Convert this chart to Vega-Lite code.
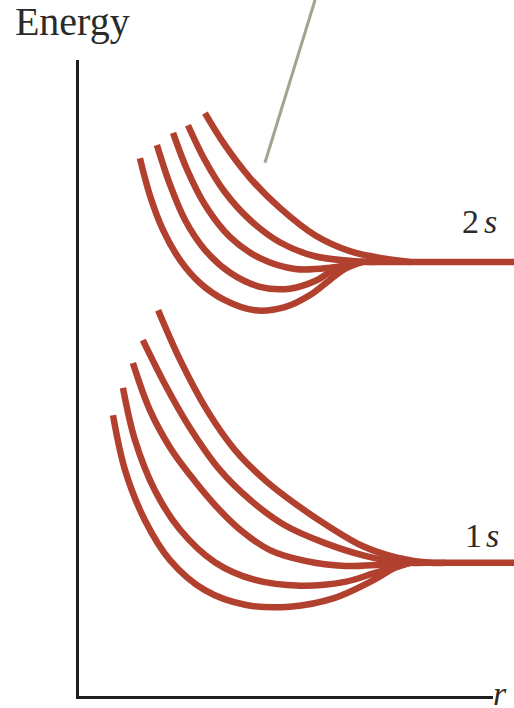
{
  "$schema": "https://vega.github.io/schema/vega-lite/v6.json",
  "width": 414,
  "height": 636,
  "autosize": "none",
  "padding": {"left": 77, "top": 61, "right": 23, "bottom": 11},
  "background": "white",
  "config": {"view": {"stroke": null}, "font": "Liberation Serif"},
  "datasets": {
    "curves": [
      {"g": "2s-a", "r": 1.52, "E": 8.47}, {"g": "2s-a", "r": 1.76, "E": 7.89}, {"g": "2s-a", "r": 2.08, "E": 7.34},
      {"g": "2s-a", "r": 2.49, "E": 6.87}, {"g": "2s-a", "r": 2.97, "E": 6.51}, {"g": "2s-a", "r": 3.57, "E": 6.24},
      {"g": "2s-a", "r": 4.30, "E": 6.08}, {"g": "2s-a", "r": 5.02, "E": 6.13}, {"g": "2s-a", "r": 5.63, "E": 6.32},
      {"g": "2s-a", "r": 6.11, "E": 6.56}, {"g": "2s-a", "r": 6.47, "E": 6.73}, {"g": "2s-a", "r": 6.88, "E": 6.84},

      {"g": "2s-b", "r": 1.93, "E": 8.68}, {"g": "2s-b", "r": 2.25, "E": 8.05}, {"g": "2s-b", "r": 2.61, "E": 7.50},
      {"g": "2s-b", "r": 3.09, "E": 7.03}, {"g": "2s-b", "r": 3.70, "E": 6.67}, {"g": "2s-b", "r": 4.42, "E": 6.45},
      {"g": "2s-b", "r": 5.14, "E": 6.42}, {"g": "2s-b", "r": 5.75, "E": 6.54}, {"g": "2s-b", "r": 6.30, "E": 6.75},
      {"g": "2s-b", "r": 6.88, "E": 6.84},

      {"g": "2s-c", "r": 2.32, "E": 8.87}, {"g": "2s-c", "r": 2.66, "E": 8.29}, {"g": "2s-c", "r": 3.09, "E": 7.74},
      {"g": "2s-c", "r": 3.70, "E": 7.23}, {"g": "2s-c", "r": 4.42, "E": 6.90}, {"g": "2s-c", "r": 5.27, "E": 6.73},
      {"g": "2s-c", "r": 6.11, "E": 6.75}, {"g": "2s-c", "r": 6.88, "E": 6.84},

      {"g": "2s-d", "r": 2.68, "E": 8.99}, {"g": "2s-d", "r": 3.09, "E": 8.44}, {"g": "2s-d", "r": 3.57, "E": 7.94},
      {"g": "2s-d", "r": 4.18, "E": 7.50}, {"g": "2s-d", "r": 4.90, "E": 7.15}, {"g": "2s-d", "r": 5.75, "E": 6.93},
      {"g": "2s-d", "r": 6.59, "E": 6.86}, {"g": "2s-d", "r": 7.20, "E": 6.84},

      {"g": "2s-e", "r": 3.09, "E": 9.18}, {"g": "2s-e", "r": 3.57, "E": 8.68}, {"g": "2s-e", "r": 4.18, "E": 8.16},
      {"g": "2s-e", "r": 4.90, "E": 7.69}, {"g": "2s-e", "r": 5.75, "E": 7.26}, {"g": "2s-e", "r": 6.59, "E": 7.01},
      {"g": "2s-e", "r": 7.44, "E": 6.89}, {"g": "2s-e", "r": 8.04, "E": 6.84},

      {"g": "2s-level", "r": 6.88, "E": 6.84}, {"g": "2s-level", "r": 10.6, "E": 6.84},

      {"g": "1s-a", "r": 0.87, "E": 4.43}, {"g": "1s-a", "r": 1.16, "E": 3.57}, {"g": "1s-a", "r": 1.64, "E": 2.78},
      {"g": "1s-a", "r": 2.25, "E": 2.15}, {"g": "1s-a", "r": 3.09, "E": 1.68}, {"g": "1s-a", "r": 4.06, "E": 1.45},
      {"g": "1s-a", "r": 5.14, "E": 1.42}, {"g": "1s-a", "r": 6.23, "E": 1.56}, {"g": "1s-a", "r": 7.08, "E": 1.81},
      {"g": "1s-a", "r": 7.68, "E": 2.03}, {"g": "1s-a", "r": 8.04, "E": 2.11},

      {"g": "1s-b", "r": 1.11, "E": 4.86}, {"g": "1s-b", "r": 1.40, "E": 4.04}, {"g": "1s-b", "r": 1.88, "E": 3.25},
      {"g": "1s-b", "r": 2.49, "E": 2.63}, {"g": "1s-b", "r": 3.33, "E": 2.12}, {"g": "1s-b", "r": 4.30, "E": 1.84},
      {"g": "1s-b", "r": 5.39, "E": 1.75}, {"g": "1s-b", "r": 6.47, "E": 1.81}, {"g": "1s-b", "r": 7.20, "E": 1.95},
      {"g": "1s-b", "r": 8.04, "E": 2.11},

      {"g": "1s-c", "r": 1.35, "E": 5.25}, {"g": "1s-c", "r": 1.76, "E": 4.51}, {"g": "1s-c", "r": 2.25, "E": 3.92},
      {"g": "1s-c", "r": 2.73, "E": 3.49}, {"g": "1s-c", "r": 3.33, "E": 3.02}, {"g": "1s-c", "r": 3.94, "E": 2.63},
      {"g": "1s-c", "r": 4.66, "E": 2.31}, {"g": "1s-c", "r": 5.51, "E": 2.14}, {"g": "1s-c", "r": 6.47, "E": 2.06},
      {"g": "1s-c", "r": 7.32, "E": 2.08}, {"g": "1s-c", "r": 8.04, "E": 2.11},

      {"g": "1s-d", "r": 1.59, "E": 5.61}, {"g": "1s-d", "r": 2.13, "E": 4.91}, {"g": "1s-d", "r": 2.73, "E": 4.23},
      {"g": "1s-d", "r": 3.45, "E": 3.57}, {"g": "1s-d", "r": 4.18, "E": 3.10}, {"g": "1s-d", "r": 5.02, "E": 2.70},
      {"g": "1s-d", "r": 5.99, "E": 2.42}, {"g": "1s-d", "r": 6.96, "E": 2.22}, {"g": "1s-d", "r": 7.80, "E": 2.12},
      {"g": "1s-d", "r": 8.41, "E": 2.11},

      {"g": "1s-e", "r": 1.96, "E": 6.08}, {"g": "1s-e", "r": 2.49, "E": 5.30}, {"g": "1s-e", "r": 3.14, "E": 4.51},
      {"g": "1s-e", "r": 3.82, "E": 3.88}, {"g": "1s-e", "r": 4.54, "E": 3.41}, {"g": "1s-e", "r": 5.31, "E": 3.02},
      {"g": "1s-e", "r": 6.11, "E": 2.67}, {"g": "1s-e", "r": 6.91, "E": 2.37}, {"g": "1s-e", "r": 7.73, "E": 2.19},
      {"g": "1s-e", "r": 8.53, "E": 2.11}, {"g": "1s-e", "r": 8.89, "E": 2.11},

      {"g": "1s-level", "r": 8.04, "E": 2.11}, {"g": "1s-level", "r": 10.6, "E": 2.11}
    ],
    "pointer": [
      {"r": 4.54, "E": 8.40}, {"r": 5.75, "E": 10.96}
    ],
    "axis_title": [
      {"txt": "Energy", "r": -1.50, "E": 10.41}
    ],
    "levels": [
      {"txt": "2", "r": 9.30, "E": 7.30, "italic": false},
      {"txt": "s", "r": 9.83, "E": 7.30, "italic": true},
      {"txt": "1", "r": 9.37, "E": 2.36, "italic": false},
      {"txt": "s", "r": 9.88, "E": 2.36, "italic": true},
      {"txt": "r", "r": 10.05, "E": -0.13, "italic": true}
    ]
  },
  "layer": [
    {
      "data": {"name": "curves"},
      "mark": {"type": "line", "interpolate": "catmull-rom", "strokeWidth": 6.5, "color": "#b2402f", "strokeCap": "butt", "clip": false},
      "encoding": {
        "x": {"field": "r", "type": "quantitative",
              "scale": {"domain": [0, 10], "nice": false, "zero": false},
              "axis": {"title": null, "labels": false, "ticks": false, "grid": false,
                       "domainColor": "#1e1e1e", "domainWidth": 3, "domainCap": "square"}},
        "y": {"field": "E", "type": "quantitative",
              "scale": {"domain": [0, 10], "nice": false, "zero": false},
              "axis": {"title": null, "labels": false, "ticks": false, "grid": false,
                       "domainColor": "#1e1e1e", "domainWidth": 3, "domainCap": "square"}},
        "detail": {"field": "g", "type": "nominal"}
      }
    },
    {
      "data": {"name": "pointer"},
      "mark": {"type": "line", "strokeWidth": 3, "color": "#a3a38f", "clip": false},
      "encoding": {
        "x": {"field": "r", "type": "quantitative"},
        "y": {"field": "E", "type": "quantitative"}
      }
    },
    {
      "data": {"name": "axis_title"},
      "mark": {"type": "text", "font": "Liberation Serif", "fontSize": 40, "align": "left", "baseline": "alphabetic", "color": "#2b2b2b"},
      "encoding": {
        "x": {"field": "r", "type": "quantitative"},
        "y": {"field": "E", "type": "quantitative"},
        "text": {"field": "txt"}
      }
    },
    {
      "data": {"name": "levels"},
      "transform": [{"filter": "!datum.italic"}],
      "mark": {"type": "text", "font": "Liberation Serif", "fontSize": 34, "align": "left", "baseline": "alphabetic", "color": "#2b2b2b"},
      "encoding": {
        "x": {"field": "r", "type": "quantitative"},
        "y": {"field": "E", "type": "quantitative"},
        "text": {"field": "txt"}
      }
    },
    {
      "data": {"name": "levels"},
      "transform": [{"filter": "datum.italic"}],
      "mark": {"type": "text", "font": "Liberation Serif", "fontStyle": "italic", "fontSize": 34, "align": "left", "baseline": "alphabetic", "color": "#2b2b2b"},
      "encoding": {
        "x": {"field": "r", "type": "quantitative"},
        "y": {"field": "E", "type": "quantitative"},
        "text": {"field": "txt"}
      }
    }
  ]
}
